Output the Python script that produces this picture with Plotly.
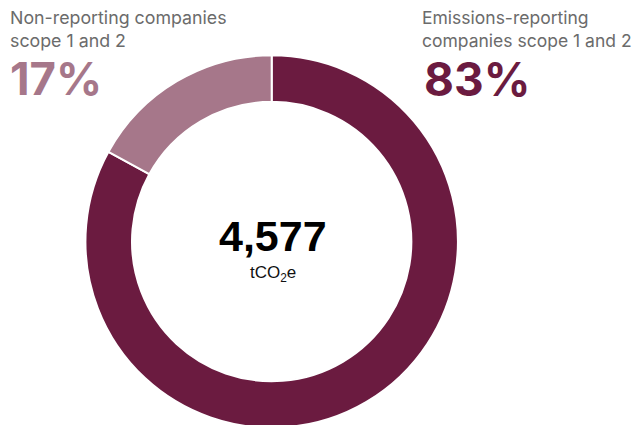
import plotly.graph_objects as go

labels = ["Emissions-reporting companies scope 1 and 2", "Non-reporting companies scope 1 and 2"]
values = [83, 17]
colors = ["#6B1B40", "#A6778A"]
total_value = "4,577"
unit = "tCO<sub>2</sub>e"

fig = go.Figure()
fig.add_trace(go.Pie(
    labels=labels, values=values, hole=0.75, sort=False, direction="clockwise",
    rotation=0, marker=dict(colors=colors, line=dict(color="white", width=2)),
    textinfo="none", hoverinfo="label+percent", showlegend=False,
    domain=dict(x=[0.121, 0.703], y=[0.012, 0.889]),
))

grey = "#6b6b6b"
font_main = "Inter, Noto Sans, sans-serif"

def ann(text, x, y, size, color, weight="normal", xanchor="left", family=font_main):
    fig.add_annotation(text=text, x=x / 640, y=1 - y / 425, xref="paper", yref="paper",
                       xanchor=xanchor, yanchor="top", showarrow=False, align="left",
                       font=dict(size=size, color=color, family=family, weight=weight))

ann("Non-reporting companies<br>scope 1 and 2", 0, -3, 17.8, grey)
ann(f"{values[1]}%", 0, 41, 45.5, colors[1], weight="bold")
ann("Emissions-reporting<br>companies scope 1 and 2", 412, -3, 17.5, grey)
ann(f"{values[0]}%", 414, 41, 46, colors[0], weight="bold")
ann(total_value, 265, 202, 43, "#000000", weight="bold", xanchor="center", family="Liberation Sans, Arial, sans-serif")
ann(unit, 265, 253, 17, "#111111", xanchor="center", family="Liberation Sans, Arial, sans-serif")

fig.update_layout(width=640, height=425, margin=dict(l=0, r=0, t=0, b=0),
                  paper_bgcolor="white", plot_bgcolor="white")
fig.write_html("out.html")
